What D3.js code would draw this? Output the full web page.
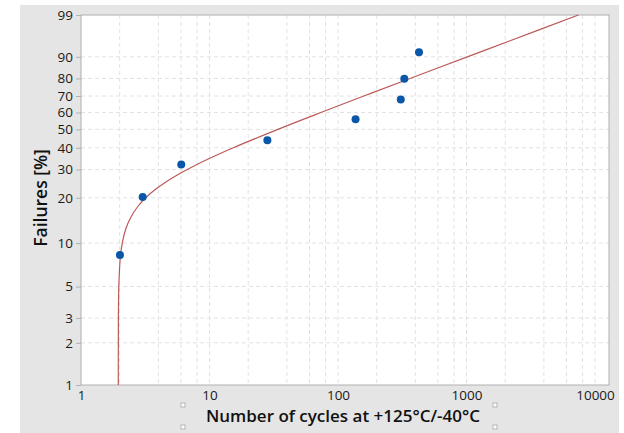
<!DOCTYPE html>
<html>
<head>
<meta charset="utf-8">
<script src="https://cdn.jsdelivr.net/npm/d3@7"></script>
<style>
  body { margin: 0; background: #fff; }
  svg text { font-family: "Open Sans", "Noto Sans", sans-serif; }
</style>
</head>
<body>
<div id="canvas"></div>
<script>
// failure data (cycles, median rank %)
var cycles = [2.01, 3.02, 6.03, 28.2, 137, 308, 328, 427];
var failPct = [8.3, 20.2, 32.1, 44.0, 56.0, 67.9, 79.8, 91.7];

// fitted line
var fitCycles = [1.951, 1.952, 1.969, 2.024, 2.094, 2.233, 2.448, 2.759, 3.187, 3.762, 4.515, 5.484, 6.71, 10.14, 15.32, 34.08, 73.6, 158.9, 363.5, 1014, 2158, 7422];
var fitPct = [1, 2, 5, 8, 10, 12.5, 15, 17.5, 20, 22.5, 25, 27.5, 30, 35, 40, 50, 60, 70, 80, 90, 95, 99];

var yTicks = [1, 2, 3, 5, 10, 20, 30, 40, 50, 60, 70, 80, 90, 99];
var xTicks = [1, 10, 100, 1000, 10000];
var xGrid = [2, 4, 6, 8, 10, 20, 40, 60, 80, 100, 200, 400, 600, 800, 1000, 2000, 4000, 6000, 8000, 10000];

var W = 624, H = 433;
var margin = {t:15, r:15, b:48, l:81};
var plotWidth = W - margin.l - margin.r,
    plotHeight = H - margin.t - margin.b;

var svg = d3.select('#canvas')
  .append('svg')
  .attr('width', W)
  .attr('height', H);

// grey panel
svg.append('rect')
  .attr('x', 20).attr('y', 5)
  .attr('width', 599).attr('height', H - 5)
  .style('fill', '#e5e5e5');

var plot = svg.append('g')
  .attr('transform', 'translate(' + margin.l + ',' + margin.t + ')');

plot.append('rect')
  .attr('width', plotWidth).attr('height', plotHeight)
  .style('fill', '#fff');

// weibull probability transform
function wb(p) { return Math.log(-Math.log(1 - p / 100)); }

var x = d3.scaleLog()
  .domain([1, Math.pow(10, 528 / 128.5)])
  .range([0, plotWidth]);
var y = d3.scaleLinear()
  .domain([wb(1), wb(99)])
  .range([plotHeight, 0]);

// grid
plot.selectAll('.hgrid')
  .data(yTicks.slice(1, -1))
  .enter().append('line')
  .attr('x1', 0).attr('x2', plotWidth)
  .attr('y1', function(d){ return y(wb(d)); })
  .attr('y2', function(d){ return y(wb(d)); })
  .style('stroke', '#e2e2e2')
  .style('stroke-dasharray', '4,3');

plot.selectAll('.vgrid')
  .data(xGrid)
  .enter().append('line')
  .attr('y1', 0).attr('y2', plotHeight)
  .attr('x1', function(d){ return x(d); })
  .attr('x2', function(d){ return x(d); })
  .style('stroke', '#e2e2e2')
  .style('stroke-dasharray', '4,3');

// frame
plot.append('rect')
  .attr('width', plotWidth).attr('height', plotHeight)
  .style('fill', 'none')
  .style('stroke', '#b0b0b0');

// axes
var yAxis = d3.axisLeft(y)
  .tickValues(yTicks.map(wb))
  .tickFormat(function(d, i){ return yTicks[i]; })
  .tickSize(5).tickPadding(3);
var gy = plot.append('g').call(yAxis);
gy.select('.domain').remove();
gy.selectAll('line').style('stroke', '#b0b0b0');
gy.selectAll('text').style('font-size', '13.5px').style('fill', '#1a1a1a');

var xAxis = d3.axisBottom(x)
  .tickValues(xTicks)
  .tickFormat(d3.format('d'))
  .tickSize(0).tickPadding(5);
var gx = plot.append('g')
  .attr('transform', 'translate(0,' + plotHeight + ')')
  .call(xAxis);
gx.select('.domain').remove();
gx.selectAll('text').style('font-size', '13.5px').style('fill', '#1a1a1a');

// fit line
var line = d3.line()
  .x(function(d){ return x(d[0]); })
  .y(function(d){ return y(wb(d[1])); })
  .curve(d3.curveCatmullRom);

plot.append('path')
  .datum(fitCycles.map(function(c, i){ return [c, fitPct[i]]; }))
  .attr('d', line)
  .style('fill', 'none')
  .style('stroke', '#bb5a58')
  .style('stroke-width', 1.2);

// data points
plot.selectAll('.pt')
  .data(cycles)
  .enter().append('circle')
  .attr('cx', function(d){ return x(d); })
  .attr('cy', function(d, i){ return y(wb(failPct[i])); })
  .attr('r', 4)
  .style('fill', '#0a56a8');

// titles
svg.append('text')
  .attr('x', 343).attr('y', 422)
  .attr('text-anchor', 'middle')
  .style('font-size', '17px')
  .style('font-weight', 600)
  .style('fill', '#111')
  .text('Number of cycles at +125°C/-40°C');

svg.append('text')
  .attr('transform', 'translate(47,198) rotate(-90)')
  .attr('text-anchor', 'middle')
  .style('font-size', '17.5px')
  .style('font-weight', 600)
  .style('fill', '#111')
  .text('Failures [%]');

// selection handles round the x title
var handles = [[183, 405], [183, 427], [495, 405], [495, 427]];
svg.selectAll('.hd')
  .data(handles)
  .enter().append('rect')
  .attr('x', function(d){ return d[0] - 2; })
  .attr('y', function(d){ return d[1] - 2; })
  .attr('width', 4).attr('height', 4)
  .style('fill', '#fff')
  .style('stroke', '#a8a8a8')
  .style('stroke-width', 0.8);
</script>
</body>
</html>
